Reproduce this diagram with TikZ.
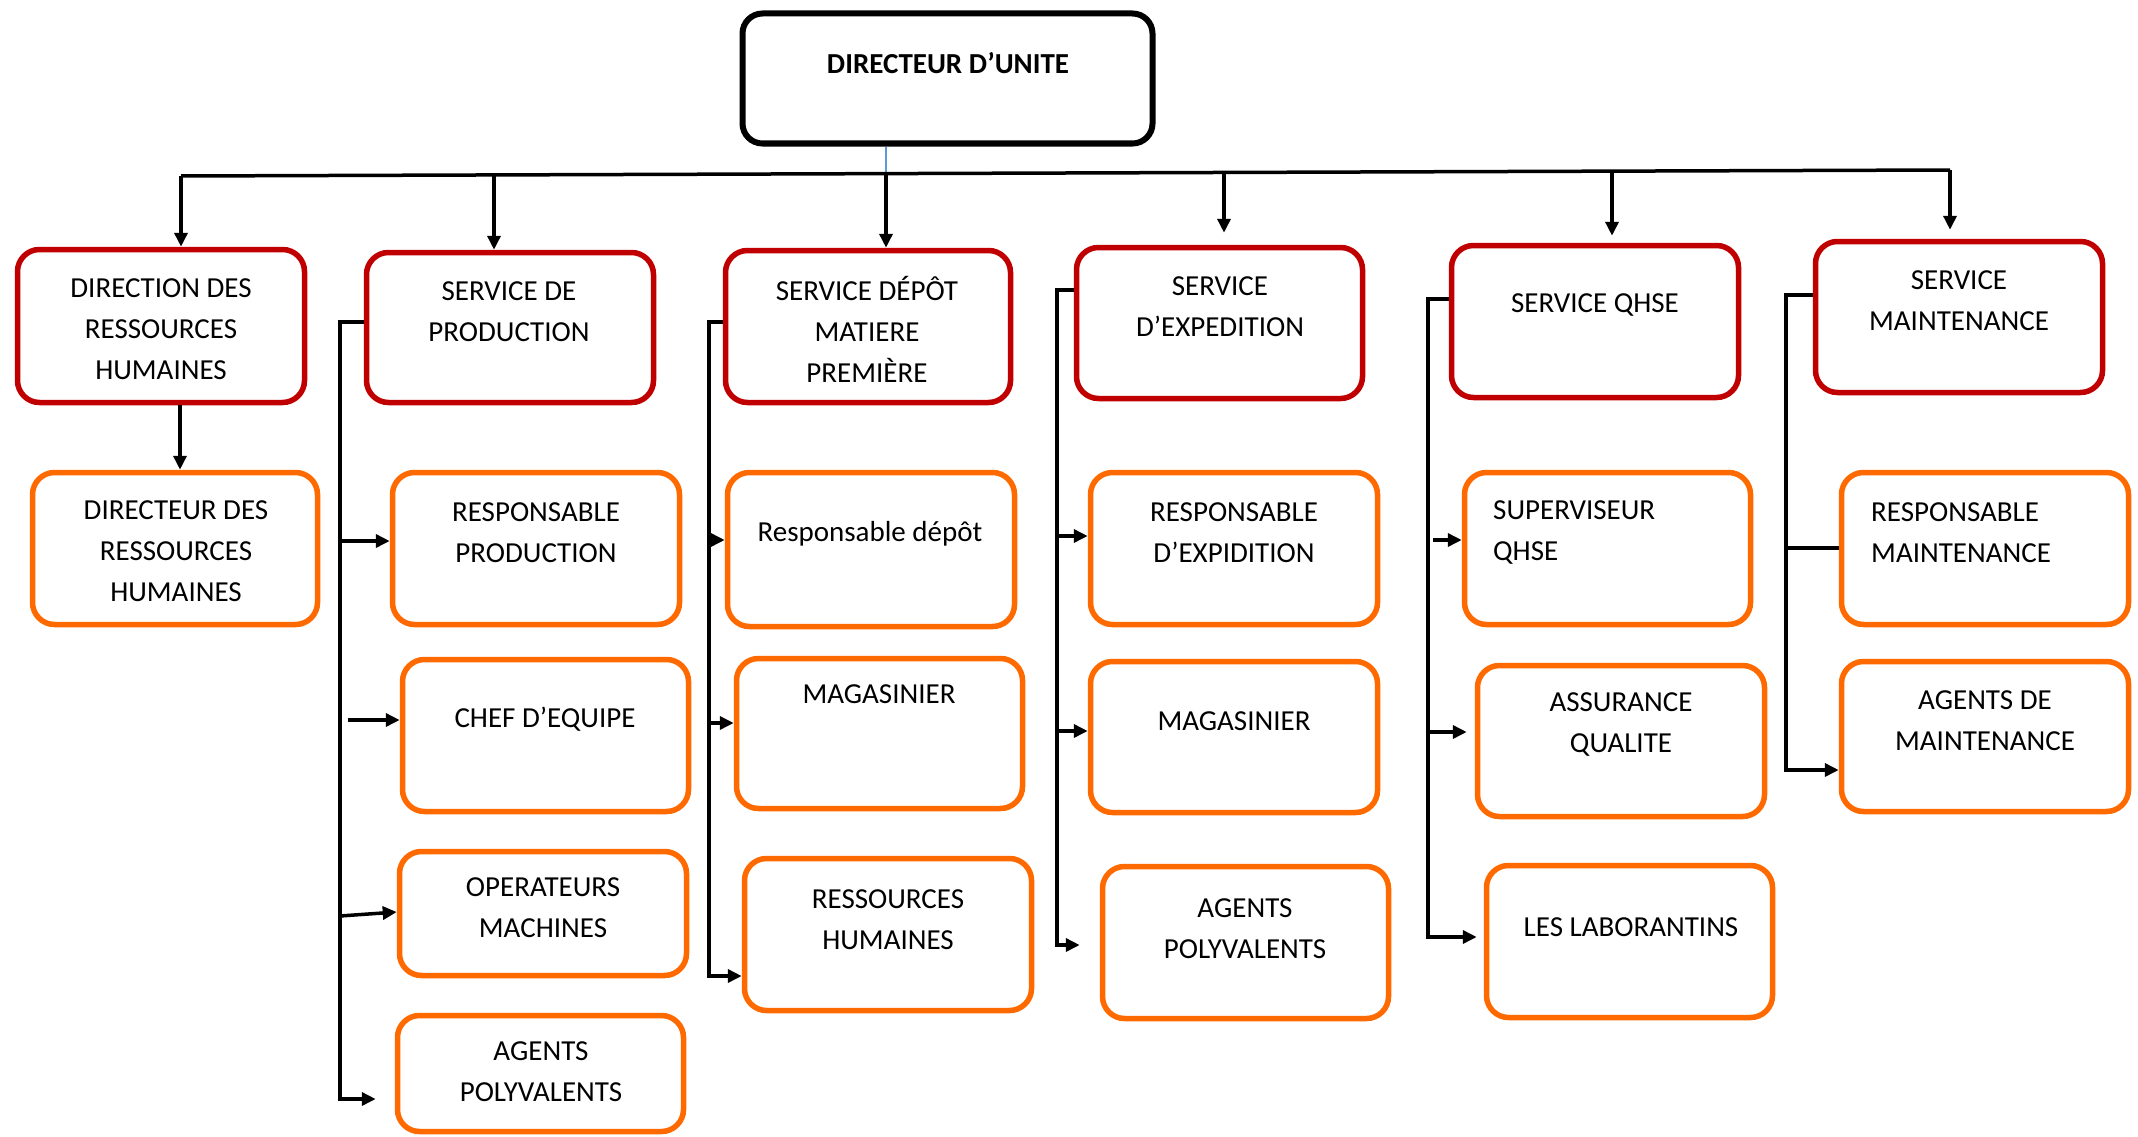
\documentclass[tikz,border=0pt]{standalone}
\usepackage{fontspec}
\setmainfont{Carlito}
\usetikzlibrary{arrows.meta}
\definecolor{boxred}{HTML}{C00000}
\definecolor{boxorange}{HTML}{FF6A00}
\definecolor{linkblue}{HTML}{5B9BD5}

% a framed box given by its outer corners: name, style, x1, y1, x2, y2
\newcommand\orgbox[6]{%
  \node[#2, minimum width={#5-#3-5}, minimum height={#6-#4-5}] (#1)
    at ({(#3+#5)/2},{(#4+#6)/2}) {};}

\begin{document}
\begin{tikzpicture}[x=1pt, y=-1pt,
  orgframe/.style={rectangle, rounded corners=22pt, line width=5.5pt, fill=white, inner sep=0pt},
  redbox/.style={orgframe, draw=boxred},
  orangebox/.style={orgframe, draw=boxorange},
  headbox/.style={orgframe, draw=black, line width=6pt, rounded corners=20pt},
  lbl/.style={font=\fontsize{29}{41}\selectfont, align=center, inner sep=0pt},
  lbll/.style={lbl, align=left, anchor=west},
  link/.style={line width=3.5pt, draw=black},
  arr/.style={link, -{Triangle[length=14pt,width=13pt]}}]

\useasboundingbox (0,0) rectangle (2138,1137);

% ---- head of the unit
\orgbox{top}{headbox}{740}{11}{1155}{146}
\node[lbl, font=\fontsize{29}{41}\selectfont\bfseries] (ttop) at (948,63) {DIRECTEUR D’UNITE};

% ---- services
\orgbox{r1}{redbox}{15}{247}{307}{405}
\orgbox{r2}{redbox}{364}{250}{656}{405}
\orgbox{r3}{redbox}{723}{248}{1013}{405}
\orgbox{r4}{redbox}{1074}{245}{1365}{401}
\orgbox{r5}{redbox}{1449}{243}{1741}{400}
\orgbox{r6}{redbox}{1813}{239}{2105}{395}

\node[lbl] (tr1) at (161,329) {DIRECTION DES\\RESSOURCES\\HUMAINES};
\node[lbl] (tr2) at (509,312) {SERVICE DE\\PRODUCTION};
\node[lbl] (tr3) at (867,329) {SERVICE DÉPÔT\\MATIERE\\PREMIÈRE};
\node[lbl] (tr4) at (1220,307) {SERVICE\\D’EXPEDITION};
\node[lbl] (tr5) at (1595,305) {SERVICE QHSE};
\node[lbl] (tr6) at (1959,301) {SERVICE\\MAINTENANCE};

% ---- staff boxes
\orgbox{o11}{orangebox}{30}{470}{320}{627}
\orgbox{o21}{orangebox}{390}{470}{682}{627}
\orgbox{o22}{orangebox}{400}{657}{691}{814}
\orgbox{o23}{orangebox}{397}{849}{689}{978}
\orgbox{o24}{orangebox}{395}{1013}{686}{1134}
\orgbox{o31}{orangebox}{725}{470}{1017}{629}
\orgbox{o32}{orangebox}{734}{656}{1025}{811}
\orgbox{o33}{orangebox}{742}{856}{1034}{1013}
\orgbox{o41}{orangebox}{1088}{470}{1380}{627}
\orgbox{o42}{orangebox}{1088}{659}{1380}{815}
\orgbox{o43}{orangebox}{1100}{864}{1391}{1021}
\orgbox{o51}{orangebox}{1462}{470}{1753}{627}
\orgbox{o52}{orangebox}{1475}{663}{1767}{819}
\orgbox{o53}{orangebox}{1484}{863}{1775}{1020}
\orgbox{o61}{orangebox}{1839}{470}{2131}{627}
\orgbox{o62}{orangebox}{1839}{659}{2131}{814}

\node[lbl] (to11) at (176,551) {DIRECTEUR DES\\RESSOURCES\\HUMAINES};
\node[lbl] (to21) at (536,533) {RESPONSABLE\\PRODUCTION};
\node[lbl] (to22) at (545,719) {CHEF D’EQUIPE};
\node[lbl] (to23) at (543,908) {OPERATEURS\\MACHINES};
\node[lbl] (to24) at (541,1072) {AGENTS\\POLYVALENTS};
\node[lbl] (to31) at (870,534) {Responsable dépôt};
\node[lbl] (to32) at (879,694) {MAGASINIER};
\node[lbl] (to33) at (888,920) {RESSOURCES\\HUMAINES};
\node[lbl] (to41) at (1234,533) {RESPONSABLE\\D’EXPIDITION};
\node[lbl] (to42) at (1234,721) {MAGASINIER};
\node[lbl] (to43) at (1245,929) {AGENTS\\POLYVALENTS};
\node[lbll] (to51) at (1493,533) {SUPERVISEUR\\QHSE};
\node[lbl] (to52) at (1621,725) {ASSURANCE\\QUALITE};
\node[lbl] (to53) at (1631,927) {LES LABORANTINS};
\node[lbll] (to61) at (1871,533) {RESPONSABLE\\MAINTENANCE};
\node[lbl] (to62) at (1985,721) {AGENTS DE\\MAINTENANCE};

% ---- main distribution bus
\coordinate (d1) at (181,176);
\coordinate (d2) at (494,174.9);
\coordinate (d3) at (886,173.6);
\coordinate (d4) at (1224,172.5);
\coordinate (d5) at (1612,171.1);
\coordinate (d6) at (1950,170);

\draw[linkblue, line width=1.5pt] (d3 |- top.south) -- (d3);
\draw[link] (d1) -- (d6);
\draw[arr] (d1) -- (d1 |- r1.north);
\draw[arr] (d2) -- (d2 |- r2.north);
\draw[arr] (d3) -- (d3 |- r3.north);
\draw[arr, shorten >=12pt] (d4) -- (d4 |- r4.north);
\draw[arr, shorten >=7pt] (d5) -- (d5 |- r5.north);
\draw[arr, shorten >=9pt] (d6) -- (d6 |- r6.north);

% ---- human resources
\coordinate (h1) at (180,405);
\draw[arr] (h1) -- (h1 |- o11.north);

% ---- production
\coordinate (v2) at (340,322);
\coordinate (v2b) at (340,1099);
\coordinate (c22) at (348,720);
\draw[arr, shorten >=19pt] (r2.west |- v2) -- (v2) -- (v2b) -- (o24.west |- v2b);
\draw[arr] (v2 |- 0,541) -- (o21.west |- 0,541);
\draw[arr] (c22) -- (o22.west |- c22);
\draw[arr] (v2 |- 0,916) -- (o23.west |- 0,912);

% ---- raw material depot
\coordinate (v3) at (709,322);
\coordinate (v3b) at (709,976);
\draw[arr] (r3.west |- v3) -- (v3) -- (v3b) -- (o33.west |- v3b);
\draw[arr] (v3 |- 0,540) -- (o31.west |- 0,540);
\draw[arr] (v3 |- 0,723) -- (o32.west |- 0,723);

% ---- shipping
\coordinate (v4) at (1057,290);
\coordinate (v4b) at (1057,945);
\draw[arr, shorten >=20pt] (r4.west |- v4) -- (v4) -- (v4b) -- (o43.west |- v4b);
\draw[arr] (v4 |- 0,536) -- (o41.west |- 0,536);
\draw[arr] (v4 |- 0,731) -- (o42.west |- 0,731);

% ---- QHSE
\coordinate (v5) at (1428,299);
\coordinate (v5b) at (1428,937);
\coordinate (c51) at (1433,540);
\draw[arr, shorten >=7pt] (r5.west |- v5) -- (v5) -- (v5b) -- (o53.west |- v5b);
\draw[arr] (c51) -- (o51.west |- c51);
\draw[arr, shorten >=8pt] (v5 |- 0,732) -- (o52.west |- 0,732);

% ---- maintenance
\coordinate (v6) at (1786,295);
\coordinate (v6b) at (1786,770);
\draw[arr] (r6.west |- v6) -- (v6) -- (v6b) -- (o62.west |- v6b);
\draw[link] (v6 |- 0,548) -- (o61.west |- 0,548);
\end{tikzpicture}
\end{document}
